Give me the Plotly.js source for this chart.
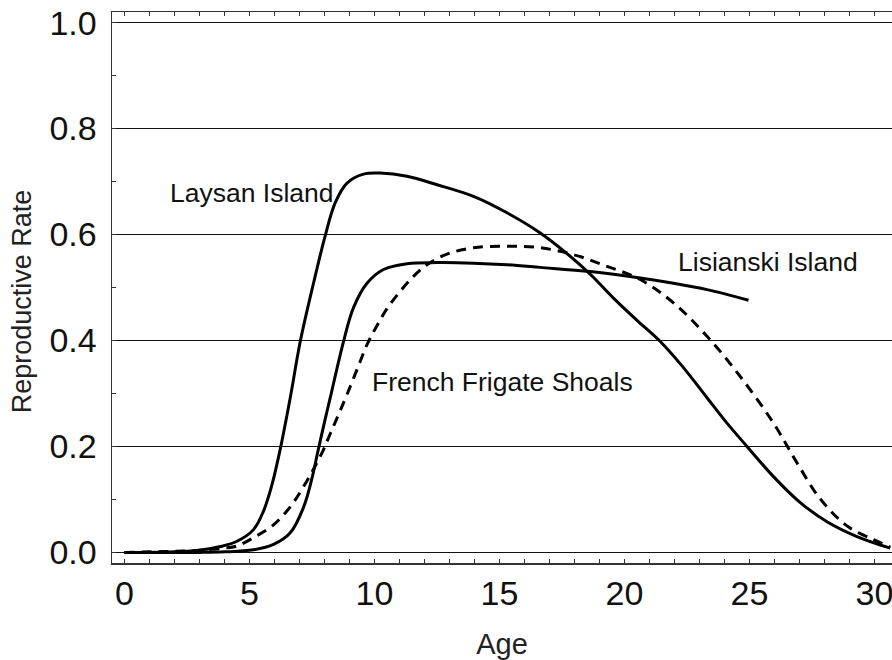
<!DOCTYPE html>
<html>
<head>
<meta charset="utf-8">
<script src="https://cdn.plot.ly/plotly-3.0.1.min.js"></script>
<style>html,body{margin:0;padding:0;background:#fff;}#chart{width:892px;height:660px;}</style>
</head>
<body>
<div id="chart"></div>
<script>
// Laysan Island (solid)
var laysanAge = [0, 1, 2, 3, 3.84, 4.5, 5.16, 5.56, 5.9, 6.23, 6.63, 7.03, 7.56, 8.03, 8.43, 8.9, 9.56, 10.23, 11.3, 12.5, 13.96, 15.3, 16.63, 17.7, 18.63, 19.56, 20.5, 21.43, 22.3, 23.3, 24.1, 24.9, 25.96, 27.03, 28.1, 29.3, 30.63];
var laysanRate = [0, 0, 0.001, 0.004, 0.011, 0.021, 0.043, 0.078, 0.128, 0.195, 0.292, 0.398, 0.508, 0.598, 0.660, 0.697, 0.714, 0.716, 0.710, 0.694, 0.672, 0.641, 0.603, 0.564, 0.525, 0.480, 0.438, 0.398, 0.352, 0.292, 0.244, 0.200, 0.143, 0.094, 0.058, 0.030, 0.008];

// Lisianski Island (solid)
var lisianskiAge = [0, 1, 2, 3, 4, 5.16, 5.96, 6.63, 7.16, 7.5, 7.76, 8.03, 8.23, 8.76, 9.16, 9.7, 10.36, 11.3, 12.5, 13.96, 15.3, 16.63, 18.63, 20.63, 21.96, 23.3, 24.96];
var lisianskiRate = [0, 0, 0, 0, 0.001, 0.005, 0.015, 0.037, 0.085, 0.140, 0.196, 0.252, 0.292, 0.398, 0.462, 0.508, 0.534, 0.545, 0.547, 0.546, 0.543, 0.538, 0.530, 0.518, 0.508, 0.496, 0.476];

// French Frigate Shoals (dashed)
var ffsAge = [0, 1, 2, 3, 3.5, 4, 4.5, 5.16, 5.96, 6.63, 7.16, 7.9, 8.23, 8.56, 8.9, 9.3, 9.7, 10.1, 10.5, 11.03, 11.56, 12.1, 12.9, 13.96, 15.3, 16.63, 17.96, 19.3, 20.63, 21.96, 23.3, 24.63, 25.96, 26.9, 27.83, 28.9, 29.96, 30.63];
var ffsRate = [0, 0.001, 0.002, 0.004, 0.006, 0.008, 0.012, 0.028, 0.052, 0.086, 0.124, 0.188, 0.224, 0.260, 0.298, 0.345, 0.392, 0.428, 0.460, 0.493, 0.521, 0.543, 0.563, 0.575, 0.578, 0.575, 0.562, 0.540, 0.515, 0.471, 0.408, 0.332, 0.244, 0.169, 0.101, 0.050, 0.024, 0.010];

var labelText = ["Laysan Island", "Lisianski Island", "French Frigate Shoals"];
var labelAge = [5.1, 25.75, 15.1];
var labelRate = [0.679, 0.549, 0.322];

var xTicks = [0, 5, 10, 15, 20, 25, 30];
var yTicks = [0, 0.2, 0.4, 0.6, 0.8, 1.0];
var yTickText = ["0.0", "0.2", "0.4", "0.6", "0.8", "1.0"];
var xTitle = "Age";
var yTitle = "Reproductive Rate";

var FONT = "Arial, 'Liberation Sans', sans-serif";

var traces = [
  {x: laysanAge, y: laysanRate, mode: 'lines', line: {color: '#000', width: 3, shape: 'spline', smoothing: 1}, name: 'Laysan Island'},
  {x: lisianskiAge, y: lisianskiRate, mode: 'lines', line: {color: '#000', width: 3, shape: 'spline', smoothing: 1}, name: 'Lisianski Island'},
  {x: ffsAge, y: ffsRate, mode: 'lines', line: {color: '#000', width: 3, dash: '10px,7px', shape: 'spline', smoothing: 1}, name: 'French Frigate Shoals'}
];

var annotations = labelText.map(function(t, i) {
  return {x: labelAge[i], y: labelRate[i], xref: 'x', yref: 'y', text: t, showarrow: false,
          font: {family: FONT, size: 26.5, color: '#111'}};
});
// y-axis title placed as a rotated annotation for precise position
annotations.push({x: 0, y: 0.475, xref: 'paper', yref: 'paper', xshift: -90, text: yTitle,
  textangle: -90, showarrow: false, xanchor: 'center', yanchor: 'middle',
  font: {family: FONT, size: 27, color: '#222'}});

var layout = {
  width: 892, height: 660,
  margin: {l: 112, r: 0, t: 12, b: 97},
  paper_bgcolor: '#fff', plot_bgcolor: '#fff',
  showlegend: false,
  font: {family: FONT, color: '#111'},
  xaxis: {
    range: [-0.5, 30.7],
    tickvals: xTicks,
    ticks: 'inside', ticklen: 4, tickwidth: 1, tickcolor: '#333',
    minor: {dtick: 1, tick0: 0, ticks: 'inside', ticklen: 4, tickwidth: 1, tickcolor: '#333', showgrid: false},
    showline: true, linecolor: '#333', linewidth: 1.5, mirror: 'allticks',
    showgrid: false, zeroline: false,
    ticklabeloverflow: 'allow',
    tickfont: {family: FONT, size: 34, color: '#111'},
    title: {text: xTitle, font: {family: FONT, size: 29, color: '#222'}, standoff: 24}
  },
  yaxis: {
    range: [-0.02, 1.02],
    tickvals: yTicks, ticktext: yTickText,
    ticks: 'inside', ticklen: 4, tickwidth: 1, tickcolor: '#333',
    minor: {dtick: 0.1, tick0: 0, ticks: 'inside', ticklen: 4, tickwidth: 1, tickcolor: '#333', showgrid: false},
    showline: true, linecolor: '#333', linewidth: 1.5, mirror: false,
    showgrid: true, gridcolor: '#111', gridwidth: 1, zeroline: false,
    ticklabelstandoff: 7,
    tickfont: {family: FONT, size: 34, color: '#111'}
  },
  annotations: annotations
};

Plotly.newPlot('chart', traces, layout, {displayModeBar: false, staticPlot: true});
</script>
</body>
</html>
